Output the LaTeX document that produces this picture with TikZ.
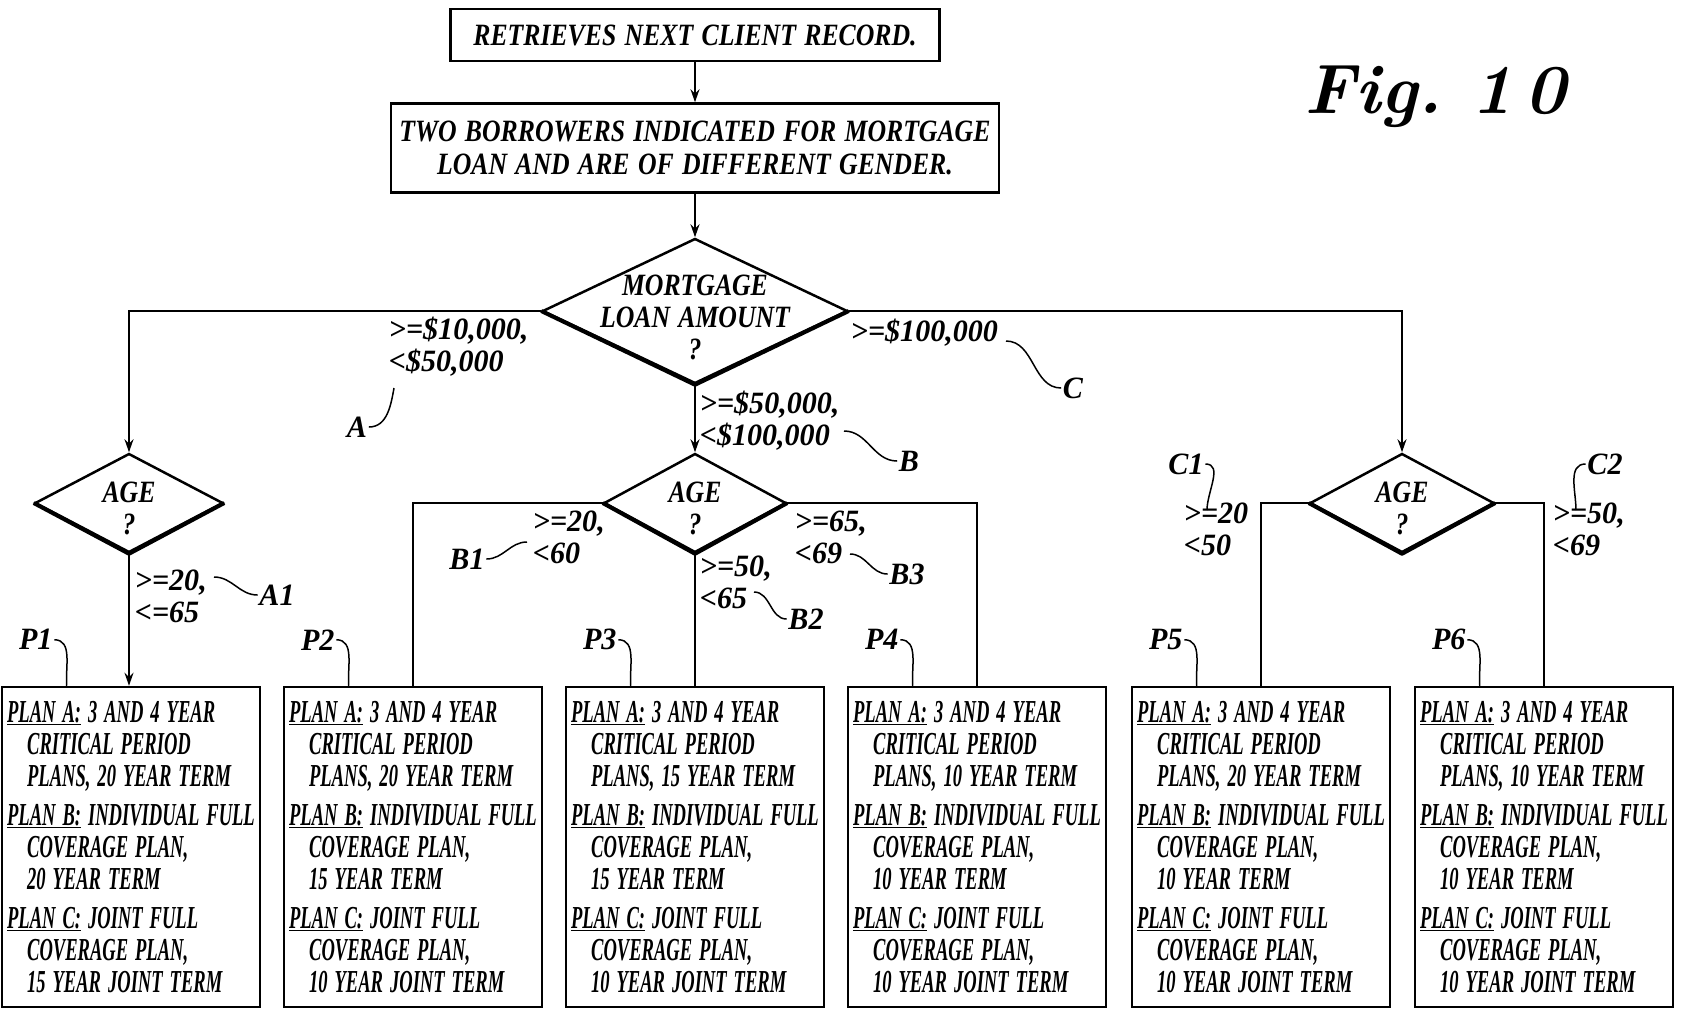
\documentclass[tikz,border=0pt]{standalone}
\usepackage{fontspec}
\newfontfamily\narrowfont[FakeStretch=0.58, WordSpace=1.5]{Liberation Serif}
\newfontfamily\headfont[FakeStretch=0.83, WordSpace=1.3]{Liberation Serif}
\newfontfamily\condfont[FakeStretch=0.97]{Liberation Serif}
\usetikzlibrary{shapes.geometric, arrows.meta, calc}

\newcommand{\planhead}[1]{\underline{PLAN #1:}}
\newcommand{\plantext}[3]{%
	\planhead{A} 3 AND 4 YEAR\\
	\hspace*{20pt}CRITICAL PERIOD\\
	\hspace*{20pt}PLANS, #1 YEAR TERM\\[7pt]
	\planhead{B} INDIVIDUAL FULL\\
	\hspace*{20pt}COVERAGE PLAN,\\
	\hspace*{20pt}#2 YEAR TERM\\[7pt]
	\planhead{C} JOINT FULL\\
	\hspace*{20pt}COVERAGE PLAN,\\
	\hspace*{20pt}#3 YEAR JOINT TERM}

\begin{document}
\begin{tikzpicture}[x=1pt, y=-1pt, line width=1.8pt]
			\tikzstyle{headbox}  = [draw, line width=2.5pt, inner sep=0pt, align=center, font=\headfont\bfseries\itshape\fontsize{31}{33}\selectfont]
			\tikzstyle{decision} = [diamond, draw, line width=2.5pt, inner sep=0pt]
			\tikzstyle{asktext}  = [inner sep=0pt, align=center, font=\headfont\bfseries\itshape\fontsize{31}{32}\selectfont]
			\tikzstyle{planbox}  = [draw, line width=2.5pt, minimum width=258pt, minimum height=320pt, inner sep=4pt, align=left, font=\narrowfont\bfseries\itshape\fontsize{32}{32}\selectfont]
			\tikzstyle{cond}     = [anchor=north west, inner sep=0pt, align=left, font=\condfont\bfseries\itshape\fontsize{31}{32}\selectfont]
			\tikzstyle{refmark}  = [inner sep=1pt, font=\condfont\bfseries\itshape\fontsize{31}{32}\selectfont]
			\tikzstyle{flow}     = [-{Stealth[length=13pt, width=9pt]}]
			\tikzstyle{leader}   = [line width=1.5pt]

			\useasboundingbox (0,0) rectangle (1681,1009);
%			\draw[step=100, gray!50] (0,0) grid (1681,1009);

			\node[headbox, minimum width=489pt, minimum height=52pt] (rec) at (695,35) {RETRIEVES NEXT CLIENT RECORD.};
			\node[headbox, minimum width=608pt, minimum height=89pt] (pair) at (695,148) {TWO BORROWERS INDICATED FOR MORTGAGE\\LOAN AND ARE OF DIFFERENT GENDER.};
			\node[decision, minimum width=305pt, minimum height=145pt] (amt) at (695,311) {};
			\node[asktext, yshift=-6pt] (amttext) at (amt) {MORTGAGE\\LOAN AMOUNT\\?};

			\foreach \name/\x/\w in {ageA/129/188, ageB/695/182, ageC/1402/184} {
				\node[decision, minimum width=\w pt, minimum height=99pt] (\name) at (\x,503) {};
				\node[asktext, yshift=-5pt] (\name text) at (\name) {AGE\\?};
			}

			\foreach \name/\x/\ta/\tb/\tc in {P1/131/20/20/15, P2/413/20/15/10, P3/695/15/15/10, P4/977/10/10/10, P5/1261/20/10/10, P6/1544/10/10/10}
				\node[planbox] (\name) at (\x,847) {\plantext{\ta}{\tb}{\tc}};

			\foreach \d in {amt, ageA, ageB, ageC}
				\draw[line width=4pt, line join=round] (\d.west) -- (\d.south) -- (\d.east);

			\draw[flow] (rec) -- (pair);
			\draw[flow] (pair) -- (amt);
			\draw[flow] (amt.west) -| (ageA.north);
			\draw[flow] (amt.south) -- (ageB.north);
			\draw[flow] (amt.east) -| (ageC.north);
			\draw[flow] (ageA.south) -- (ageA.south |- P1.north);
			\draw (ageB.west) -| (P2.north);
			\draw (ageB.south) -- (P3.north);
			\draw (ageB.east) -| (P4.north);
			\draw (ageC.west) -| (P5.north);
			\draw (ageC.east) -| (P6.north);

			\foreach \name/\x/\y/\txt in {cA/388/316/{>=\$10,000,\\<\$50,000}, cB/699/390/{>=\$50,000,\\<\$100,000}, cC/850/318/{>=\$100,000},
				cA1/134/569/{>=20,\\<=65}, cB1/532/510/{>=20,\\<60}, cB2/699/555/{>=50,\\<65}, cB3/794/510/{>=65,\\<69},
				cC1/1183/502/{>=20\\<50}, cC2/1552/502/{>=50,\\<69}}
				\node[cond] (\name) at (\x,\y) {\txt};

			\foreach \name/\x/\y in {A/357/427, B/909/461, C/1073/388, A1/277/595, B1/467/559, B2/806/619, B3/907/574, C1/1186/464, C2/1605/464}
				\node[refmark] (lb\name) at (\x,\y) {\name};

			\draw[leader] (lbA.east) to[out=0, in=-100] (394,388);
			\draw[leader] (844,431) to[out=0, in=180] (lbB.west);
			\draw[leader] (1006,341) to[out=0, in=180] (lbC.west);
			\draw[leader] (214,577) to[out=0, in=180] (lbA1.west);
			\draw[leader] (lbB1.east) to[out=0, in=180] (527,542);
			\draw[leader] (754,592) to[out=0, in=180] (lbB2.west);
			\draw[leader] (850,554) to[out=0, in=180] (lbB3.west);
			\draw[leader] (lbC1.east) to[out=0, in=90] (1207,510);
			\draw[leader] (lbC2.west) to[out=180, in=90] (1576,510);

			\foreach \name in {P1, P2, P3, P4, P5, P6} {
				\node[refmark] (lb\name) at ($(\name.north west)+(35,-46)$) {\name};
				\draw[leader] (lb\name.east) to[out=0, in=95] ($(\name.north west)+(66,0)$);
			}

			\node[anchor=base west, inner sep=0pt, font=\bfseries\itshape\fontsize{70}{70}\selectfont] (fig) at (1304,113) {Fig.\ 1\,0};
\end{tikzpicture}
\end{document}
